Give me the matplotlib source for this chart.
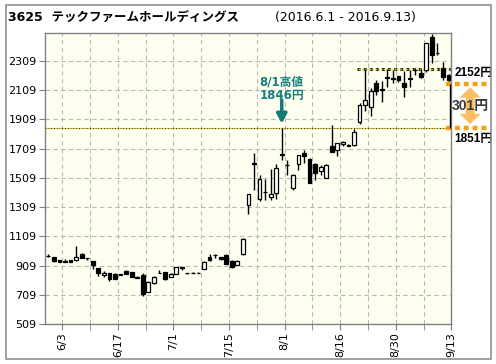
import matplotlib
matplotlib.use('Agg')
import matplotlib.pyplot as plt
from matplotlib.patches import Rectangle, Polygon

plt.rcParams['font.family'] = ['DejaVu Sans', 'Noto Sans CJK JP']

# trading days 2016/6/1 - 2016/9/13
dates = ['6/1', '6/2', '6/3', '6/6', '6/7', '6/8', '6/9', '6/10', '6/13', '6/14',
         '6/15', '6/16', '6/17', '6/20', '6/21', '6/22', '6/23', '6/24', '6/27', '6/28',
         '6/29', '6/30', '7/1', '7/4', '7/5', '7/6', '7/7', '7/8', '7/11', '7/12',
         '7/13', '7/14', '7/15', '7/19', '7/20', '7/21', '7/22', '7/25', '7/26', '7/27',
         '7/28', '7/29', '8/1', '8/2', '8/3', '8/4', '8/5', '8/8', '8/9', '8/10',
         '8/12', '8/15', '8/16', '8/17', '8/18', '8/19', '8/22', '8/23', '8/24', '8/25',
         '8/26', '8/29', '8/30', '8/31', '9/1', '9/2', '9/5', '9/6', '9/7', '9/8',
         '9/9', '9/12', '9/13']

opens = [975, 965, 945, 936, 948, 945, 990, 962, 938, 893,
         842, 856, 854, 848, 870, 866, 833, 842, 730, 790,
         857, 863, 833, 852, 898, 857, 861, 861, 886, 968,
         984, 968, 984, 943, 913, 985, 1320, 1610, 1366, 1413,
         1377, 1407, 1670, 1596, 1441, 1606, 1681, 1635, 1601, 1555,
         1510, 1726, 1702, 1738, 1735, 1731, 1891, 2005, 1994, 2158,
         2115, 2199, 2189, 2204, 2158, 2189, 2246, 2227, 2245, 2474,
         2365, 2257, 2211]
highs = [990, 970, 948, 952, 950, 1040, 992, 963, 940, 895,
         870, 858, 856, 850, 878, 868, 836, 856, 800, 835,
         875, 866, 856, 900, 899, 860, 863, 863, 938, 989,
         985, 970, 986, 945, 945, 1095, 1400, 1675, 1526, 1503,
         1571, 1606, 1846, 1633, 1537, 1665, 1697, 1647, 1610, 1594,
         1600, 1868, 1750, 1760, 1737, 1840, 2021, 2250, 2126, 2177,
         2172, 2250, 2245, 2205, 2240, 2245, 2257, 2250, 2430, 2495,
         2428, 2302, 2222]
lows = [965, 935, 930, 934, 933, 943, 958, 950, 886, 840,
        830, 801, 815, 845, 850, 830, 822, 701, 728, 785,
        855, 812, 830, 850, 879, 853, 857, 857, 884, 943,
        961, 950, 918, 895, 911, 979, 1263, 1425, 1350, 1354,
        1354, 1366, 1633, 1526, 1423, 1560, 1610, 1472, 1491, 1526,
        1508, 1684, 1656, 1725, 1725, 1725, 1880, 1966, 1930, 2074,
        2028, 2131, 2158, 2165, 2062, 2131, 2211, 2193, 2234, 2291,
        2348, 2177, 2154]
closes = [977, 940, 932, 938, 935, 968, 960, 960, 911, 856,
          861, 817, 817, 847, 852, 831, 824, 715, 795, 830,
          855, 815, 852, 897, 895, 856, 860, 859, 936, 945,
          983, 955, 920, 897, 943, 1090, 1395, 1600, 1503, 1411,
          1395, 1579, 1665, 1594, 1526, 1663, 1656, 1472, 1541, 1583,
          1599, 1685, 1747, 1752, 1728, 1825, 2005, 2044, 2103, 2103,
          2112, 2188, 2187, 2181, 2131, 2187, 2244, 2199, 2428, 2348,
          2363, 2199, 2177]

yticks = [509, 709, 909, 1109, 1309, 1509, 1709, 1909, 2109, 2309]
label_dates = ['6/3', '6/17', '7/1', '7/15', '8/1', '8/16', '8/30', '9/13']

peak_label = '8/1高値\n1846円'
peak_price = 1846
resist_price = 2255
last_price = 2152
ref_price = 1851
diff = last_price - ref_price

fig = plt.figure(figsize=(4.96, 3.64), dpi=100)
fig.patches.append(Rectangle((6 / 496, 5 / 364), 485 / 496, 354 / 364,
                             transform=fig.transFigure, fill=False,
                             edgecolor='#909090', lw=1.2))
ax = fig.add_axes([45 / 496, 40 / 364, 406.3 / 496, 290.7 / 364])
ax.set_facecolor('#fffff0')

n = len(dates)
xs = list(range(n))
for i in xs:
    o, h, l, c = opens[i], highs[i], lows[i], closes[i]
    ax.vlines(i, l, h, color='black', lw=1, zorder=3)
    up = c >= o
    ax.bar(i, abs(c - o), bottom=min(o, c), width=0.68,
           color='white' if up else 'black', edgecolor='black', lw=0.9, zorder=4)

ax.set_xlim(-0.6, n - 0.5)
ax.set_ylim(509, 2497)
ax.set_yticks(yticks)
ax.set_yticklabels([str(v) for v in yticks], fontsize=8)

grid_x = [i + 0.5 for i in range(2, n, 5)]
ax.set_xticks(grid_x, minor=True)
major = [dates.index(d) + 0.5 for d in label_dates]
ax.set_xticks(major)
ax.set_xticklabels(label_dates, rotation=90, fontsize=8)
ax.tick_params(axis='both', which='both', length=4, color='#808080', pad=2)
ax.grid(True, which='both', axis='x', ls=(0, (4, 3)), color='#b8b8b8', lw=0.8)
ax.grid(True, which='major', axis='y', ls=(0, (4, 3)), color='#b8b8b8', lw=0.8)
ax.set_axisbelow(True)
for s in ax.spines.values():
    s.set_color('#808080')
    s.set_linewidth(1)

# 8/1 peak line and label
ax.hlines(peak_price, -0.6, n - 0.9, color='#333300', ls=(0, (1, 1.5)), lw=0.8, zorder=2)
ax.hlines(peak_price, -0.6, n - 0.9, color='#f0c000', ls=(1.2, (1, 1.5)), lw=0.8, zorder=2)
i_peak = dates.index('8/1')
ax.text(i_peak, 2118, peak_label, ha='center', va='center', color='#17807f',
        fontsize=8.5, fontweight='bold', linespacing=1.1)
ax.annotate('', xy=(i_peak, 1880), xytext=(i_peak, 2040),
            arrowprops=dict(arrowstyle='-|>,head_width=0.3,head_length=0.55',
                            color='#117a78', lw=2.5, shrinkA=0, shrinkB=0), zorder=6)

# resistance dotted band
ax.hlines(resist_price, 55.6, n - 0.5, color='#333300', ls=(0, (1, 1)), lw=2.2, zorder=2)
ax.hlines(resist_price, 55.6, n - 0.5, color='#e8d060', ls=(1, (1, 1)), lw=1.0, zorder=2)

# right side range annotation
orange = '#f5a010'
for p in (last_price, ref_price):
    ax.plot([n - 1.5, n + 6.3], [p, p], color=orange, lw=3.2, ls=(0, (1.1, 0.9)),
            clip_on=False, zorder=5, solid_capstyle='butt')
ax.vlines(n - 0.8, ref_price, last_price, color='black', lw=1, clip_on=False, zorder=5)

# double arrow, in index / price units
ax_c = n + 2.9
hw, sw, hl = 1.9, 0.8, 70
top, bot = last_price - 25, ref_price + 25
arrow_pts = [(ax_c, top), (ax_c + hw, top - hl), (ax_c + sw, top - hl),
             (ax_c + sw, bot + hl), (ax_c + hw, bot + hl), (ax_c, bot),
             (ax_c - hw, bot + hl), (ax_c - sw, bot + hl), (ax_c - sw, top - hl),
             (ax_c - hw, top - hl)]
ax.add_patch(Polygon(arrow_pts, closed=True, facecolor='#f8b448', edgecolor='none',
                     alpha=0.85, clip_on=False, zorder=5))

txt_font = ['Liberation Sans', 'Noto Sans CJK JP']
ax.text(n + 0.1, last_price + 75, f'{last_price}円', ha='left', va='center',
        fontsize=8.5, fontweight='bold', clip_on=False, family=txt_font)
ax.text(ax_c, (last_price + ref_price) / 2, f'{diff}円', ha='center', va='center',
        fontsize=10, fontweight='bold', color='#3a3a3a', clip_on=False, zorder=6,
        family=txt_font)
ax.text(n + 0.1, ref_price - 75, f'{ref_price}円', ha='left', va='center',
        fontsize=8.5, fontweight='bold', clip_on=False, family=txt_font)

fig.text(8 / 496, 1 - 17 / 364, '3625  テックファームホールディングス', fontsize=9,
         fontweight='bold', va='center', ha='left')
fig.text(275 / 496, 1 - 18 / 364, '(2016.6.1 - 2016.9.13)', fontsize=9,
         va='center', ha='left')

fig.savefig('out.png', dpi=100)
